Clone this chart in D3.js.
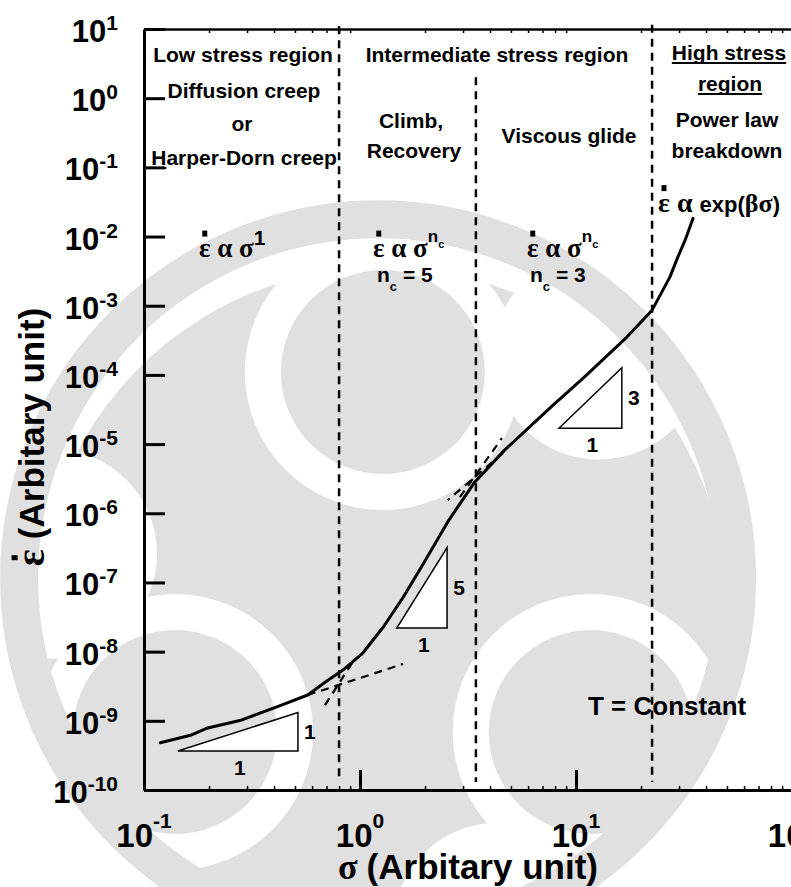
<!DOCTYPE html>
<html>
<head>
<meta charset="utf-8">
<script src="https://cdn.jsdelivr.net/npm/d3@7"></script>
<style>
  html, body { margin: 0; padding: 0; background: #fff; }
  svg { display: block; }
  text { font-family: "Liberation Sans", Arial, sans-serif; font-weight: bold; fill: #000; }
  .greek { font-family: "Liberation Serif", "Times New Roman", serif; font-weight: bold; }
</style>
</head>
<body>
<svg id="chart" width="791" height="887"></svg>
<script>
// ---- deformation-mechanism curve: stress (σ) vs. steady-state creep rate (ε̇) ----
const stress = [0.119, 0.166, 0.195, 0.284, 0.415, 0.573, 0.702, 0.834, 1.03, 1.285,
                1.59, 1.97, 2.58, 3.37, 4.67, 7.83, 10.8, 17.2, 22.5, 27.2, 29.6, 32.0, 34.8];
const strainRate = [4.83e-10, 6.24e-10, 7.8e-10, 1.03e-9, 1.6e-9, 2.36e-9, 3.76e-9, 5.42e-9, 9.55e-9, 2.29e-8,
                    6.21e-8, 1.89e-7, 7.98e-7, 2.73e-6, 8.18e-6, 3.66e-5, 9.0e-5, 3.52e-4, 8.63e-4, 2.59e-3, 5.04e-3, 8.87e-3, 1.83e-2];

// extrapolated power-law segments (dashed): [start, end]
const guideStress = [[0.573, 1.58], [0.918, 0.675], [4.59, 2.55], [2.9, 4.54]];
const guideRate   = [[2.36e-9, 6.62e-9], [6.84e-9, 1.53e-9], [7.41e-6, 1.55e-6], [1.71e-6, 1.22e-5]];

// stresses separating the creep regimes, and where each divider starts/ends
const boundaryStress = [0.8, 3.44, 22.5];
const boundaryTop = [11, 2.0, 11.5];
const boundaryBottom = 1.3e-10;

// slope triangles: stress span of the base, base rate, and the power-law exponent
const triStress = [[0.1435, 0.516], [1.48, 2.53], [8.34, 16.3]];
const triBaseRate = [3.66e-10, 2.19e-8, 1.70e-5];
const triSlope = [1, 5, 3];

// axis decades
const xExponents = [-1, 0, 1, 2];
const yExponents = [-10, -9, -8, -7, -6, -5, -4, -3, -2, -1, 0, 1];

// annotation text
const regionNames = ["Low stress region", "Diffusion creep", "or", "Harper-Dorn creep",
                     "Intermediate stress region", "Climb,", "Recovery", "Viscous glide",
                     "High stress", "region", "Power law", "breakdown"];
const exponentNotes = ["5", "3"];
const conditionNote = "T = Constant";
const xTitle = "(Arbitary unit)";
const yTitle = "(Arbitary unit)";

// ---------------------------------------------------------------------------
const W = 791, H = 887;
const svg = d3.select("#chart");

const x = d3.scaleLog().domain([0.1, 100]).range([144, 792]);
const y = d3.scaleLog().domain([1e-10, 10]).range([790, 29]);

// faint three-comma emblem in the background
{
  const gray = "#e0e0e0";
  const wm = svg.append("g").attr("fill", gray);
  const cx = W * 0.484, cy = H * 0.69;
  const at = (ang, r) => [cx + r * Math.cos(ang * Math.PI / 180), cy + r * Math.sin(ang * Math.PI / 180)];
  wm.append("circle").attr("cx", cx).attr("cy", cy).attr("r", 345);
  [0, 120, 240].forEach(k => {
    const [ax, ay] = at(-50 + k, 336);
    wm.append("circle").attr("cx", ax).attr("cy", ay).attr("r", 105).attr("fill", "#fff");
  });
  [0, 120, 240].forEach(k => {
    const [hx, hy] = at(-90 + k, 240);
    wm.append("circle").attr("cx", hx).attr("cy", hy).attr("r", 138).attr("fill", "#fff");
  });
  [0, 120, 240].forEach(k => {
    const [hx, hy] = at(-90 + k, 240);
    wm.append("circle").attr("cx", hx).attr("cy", hy).attr("r", 102);
  });
  wm.append("circle").attr("cx", W * 0.478).attr("cy", H * 0.652).attr("r", 359)
    .attr("fill", "none").attr("stroke", gray).attr("stroke-width", 38);
}

// regime dividers
svg.append("g").selectAll("line").data(boundaryStress).join("line")
  .attr("x1", d => x(d)).attr("x2", d => x(d))
  .attr("y1", (d, i) => y(boundaryTop[i])).attr("y2", y(boundaryBottom))
  .attr("stroke", "#000").attr("stroke-width", 2.5).attr("stroke-dasharray", "8,6");

// axes
const minorTicks = [];
[-1, 0, 1].forEach(e => { for (let k = 2; k <= 9; k++) minorTicks.push(k * Math.pow(10, e)); });

const styleAxis = (g, w) => {
  g.select(".domain").attr("stroke-width", 3);
  g.selectAll(".tick line").attr("stroke-width", w);
};

svg.append("g").attr("transform", `translate(0,${y(1e-10)})`)
  .call(d3.axisTop(x).tickValues(minorTicks).tickSize(4).tickSizeOuter(0).tickFormat(""))
  .call(g => styleAxis(g, 1.5));
svg.append("g").attr("transform", `translate(0,${y(1e-10)})`)
  .call(d3.axisTop(x).tickValues([1, 10]).tickSize(20).tickSizeOuter(0).tickFormat(""))
  .call(g => styleAxis(g, 3));
svg.append("g").attr("transform", `translate(0,${y(10)})`)
  .call(d3.axisBottom(x).tickValues(minorTicks).tickSize(4).tickSizeOuter(0).tickFormat(""))
  .call(g => { g.select(".domain").attr("stroke-width", 2.5); g.selectAll(".tick line").attr("stroke-width", 1.5); });
svg.append("g").attr("transform", `translate(${x(0.1)},0)`)
  .call(d3.axisRight(y).tickValues(yExponents.map(e => Math.pow(10, e))).tickSize(21).tickSizeOuter(0).tickFormat(""))
  .call(g => styleAxis(g, 3));

// tick labels as powers of ten
yExponents.forEach(e => {
  const t = svg.append("text").attr("x", 118).attr("y", y(Math.pow(10, e)) + 13)
    .attr("text-anchor", "end").attr("font-size", 31);
  t.append("tspan").text("10");
  t.append("tspan").attr("dy", -12).attr("font-size", 21).text(e);
});
xExponents.forEach(e => {
  const t = svg.append("text").attr("x", x(Math.pow(10, e))).attr("y", 847)
    .attr("text-anchor", "middle").attr("font-size", 33);
  t.append("tspan").text("10");
  t.append("tspan").attr("dy", -19).attr("font-size", 21).text(e);
});

// dashed extrapolations of the power-law segments
const line = d3.line().x(d => x(d[0])).y(d => y(d[1]));
svg.append("g").selectAll("path").data(guideStress.map((s, i) => s.map((v, j) => [v, guideRate[i][j]])))
  .join("path").attr("d", line)
  .attr("fill", "none").attr("stroke", "#000").attr("stroke-width", 2.2).attr("stroke-dasharray", "8,6");

// slope triangles
const triG = svg.append("g");
triStress.forEach(([s0, s1], i) => {
  const r0 = triBaseRate[i];
  const r1 = r0 * Math.pow(s1 / s0, triSlope[i]);
  const pts = [[s0, r0], [s1, r0], [s1, r1]];
  triG.append("path").attr("d", line(pts) + "Z")
    .attr("fill", "#fff").attr("stroke", "#000").attr("stroke-width", 1.5);
  triG.append("text").attr("x", (x(s0) + x(s1)) / 2 + 2).attr("y", y(r0) + 24)
    .attr("text-anchor", "middle").attr("font-size", 21).text("1");
  triG.append("text").attr("x", x(s1) + 12).attr("y", (y(r0) + y(r1)) / 2 + 7)
    .attr("text-anchor", "middle").attr("font-size", 21).text(triSlope[i]);
});

// creep curve
svg.append("path")
  .datum(stress.map((s, i) => [s, strainRate[i]]))
  .attr("d", line)
  .attr("fill", "none").attr("stroke", "#000").attr("stroke-width", 3)
  .attr("stroke-linejoin", "round").attr("stroke-linecap", "round");

// regime captions
const notePos = [[243, 62], [244, 98], [242, 131], [244, 165],
                 [497, 62], [411, 128], [414, 158], [569, 143],
                 [729, 60], [730, 91], [727, 127], [727, 158]];
const underlined = { 3: [0, 1], 8: "all", 9: "all" };
regionNames.forEach((txt, i) => {
  const t = svg.append("text").attr("x", notePos[i][0]).attr("y", notePos[i][1])
    .attr("text-anchor", "middle").attr("font-size", 21).text(txt);
  const u = underlined[i];
  if (u) {
    const node = t.node();
    let x0, x1;
    if (u === "all") { const b = node.getBBox(); x0 = b.x; x1 = b.x + b.width; }
    else { const a = node.getExtentOfChar(u[0]); x0 = a.x; x1 = a.x + a.width; }
    svg.append("line").attr("x1", x0).attr("x2", x1)
      .attr("y1", notePos[i][1] + 3).attr("y2", notePos[i][1] + 3)
      .attr("stroke", "#000").attr("stroke-width", 2);
  }
});

// rate laws with a dotted epsilon
function dotEps(g, t, fs) {
  const ext = t.node().getExtentOfChar(0);
  const base = +t.attr("y");
  const bottom = base - 0.46 * fs - 8;
  g.append("rect").attr("x", ext.x + ext.width / 2 - 2.5).attr("y", bottom - 6)
    .attr("width", 5).attr("height", 6).attr("fill", "#000");
}
function powerLaw(x0, base, supText) {
  const t = svg.append("text").attr("x", x0).attr("y", base);
  t.append("tspan").attr("class", "greek").attr("font-size", 27).text("ε α σ");
  if (supText === "1") {
    t.append("tspan").attr("dy", -12).attr("font-size", 21).text("1");
  } else {
    t.append("tspan").attr("dy", -15).attr("font-size", 17).text("n");
    t.append("tspan").attr("dy", 6).attr("font-size", 11).text("c");
  }
  dotEps(svg, t, 27);
}
powerLaw(199, 257, "1");
powerLaw(373, 257, "n");
powerLaw(527, 257, "n");

[[377, 5], [530, 3]].forEach(([x0, v], i) => {
  const t = svg.append("text").attr("x", x0).attr("y", 282).attr("font-size", 21);
  t.append("tspan").text("n");
  t.append("tspan").attr("dy", 9).attr("font-size", 13).text("c");
  t.append("tspan").attr("dy", -9).text(" = " + exponentNotes[i]);
});

{
  const t = svg.append("text").attr("x", 658).attr("y", 212).attr("font-size", 22);
  t.append("tspan").attr("class", "greek").attr("font-size", 28).text("ε α ");
  t.append("tspan").text("exp(");
  t.append("tspan").attr("class", "greek").attr("font-size", 26).text("βσ");
  t.append("tspan").text(")");
  dotEps(svg, t, 28);
}

svg.append("text").attr("x", 588).attr("y", 715).attr("font-size", 26).text(conditionNote);

// axis titles
{
  const t = svg.append("text").attr("x", 468).attr("y", 879).attr("text-anchor", "middle").attr("font-size", 35);
  t.append("tspan").attr("class", "greek").attr("font-size", 36).text("σ ");
  t.append("tspan").text(xTitle);
}
{
  const g = svg.append("g").attr("transform", "translate(44,437) rotate(-90)");
  const t = g.append("text").attr("x", 0).attr("y", 0).attr("text-anchor", "middle").attr("font-size", 35);
  t.append("tspan").attr("class", "greek").attr("font-size", 40).text("ε ");
  t.append("tspan").text(yTitle);
  dotEps(g, t, 40);
}
</script>
</body>
</html>
